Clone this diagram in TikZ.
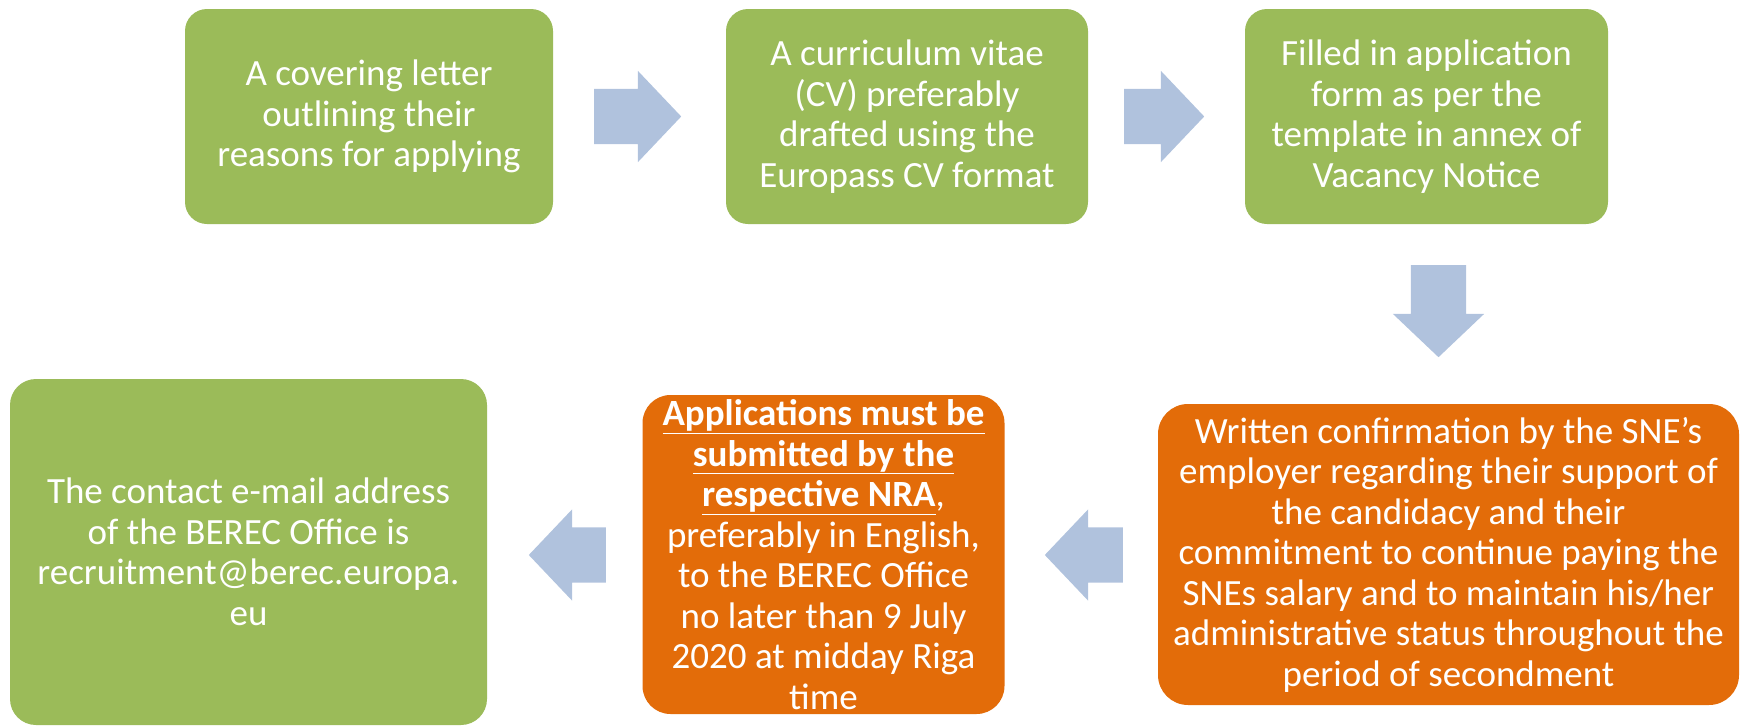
\documentclass[tikz,border=0pt]{standalone}
\usepackage{fontspec}
\setmainfont{Carlito}
\usetikzlibrary{shapes.arrows}
\definecolor{boxgreen}{HTML}{9BBB59}
\definecolor{boxorange}{HTML}{E36C09}
\definecolor{arrowblue}{HTML}{B0C2DD}

\tikzset{
  stepgreen/.style={rectangle, rounded corners=22pt, fill=boxgreen, text=white, align=center, inner sep=0pt},
  steporange/.style={rectangle, rounded corners=28pt, fill=boxorange, text=white, align=center, inner sep=0pt},
  flowarrow/.style={single arrow, fill=arrowblue, draw=none, anchor=tail, inner xsep=0pt, inner ysep=27.5pt, single arrow head extend=18pt, single arrow tip angle=93}
}

\begin{document}
\begin{tikzpicture}[x=1pt, y=-1pt, font=\fontsize{37}{40.5}\selectfont]
\useasboundingbox (0,0) rectangle (1741,726);

% top row
\node[stepgreen, minimum width=368pt, minimum height=215pt] (cover) at (369,116.5) {A covering letter\\outlining their\\reasons for applying};
\node[stepgreen, minimum width=362pt, minimum height=215pt] (cv) at (907,116.5) {A curriculum vitae\\(CV) preferably\\drafted using the\\Europass CV format};
\node[stepgreen, minimum width=363pt, minimum height=215pt] (form) at (1426.5,116.5) {Filled in application\\form as per the\\template in annex of\\Vacancy Notice};

% bottom row
\node[steporange, rounded corners=30pt, minimum width=581pt, minimum height=301pt] (confirm) at (1448.5,554.5) {Written confirmation by the SNE’s\\employer regarding their support of\\the candidacy and their\\commitment to continue paying the\\SNEs salary and to maintain his/her\\administrative status throughout the\\period of secondment};
\node[steporange, minimum width=362pt, minimum height=319pt] (submit) at (823.5,554.5) {\underline{\textbf{Applications must be}}\\\underline{\textbf{submitted by the}}\\\underline{\textbf{respective NRA}},\\preferably in English,\\to the BEREC Office\\no later than 9 July\\2020 at midday Riga\\time};
\node[stepgreen, rounded corners=26pt, minimum width=477pt, minimum height=346pt] (contact) at (248.5,552) {The contact e-mail address\\of the BEREC Office is\\recruitment@berec.europa.\\eu};

% block arrows
\node[flowarrow, minimum height=87pt] (arrA) at (594,116.5) {};
\node[flowarrow, minimum height=80pt] (arrB) at (1124,116.5) {};
\node[flowarrow, minimum height=92pt, shape border rotate=270, inner xsep=27.5pt, inner ysep=0pt] (arrC) at (1438.5,265) {};
\node[flowarrow, minimum height=78pt, shape border rotate=180] (arrD) at (1123,555) {};
\node[flowarrow, minimum height=77pt, shape border rotate=180] (arrE) at (606,555) {};
\end{tikzpicture}
\end{document}
